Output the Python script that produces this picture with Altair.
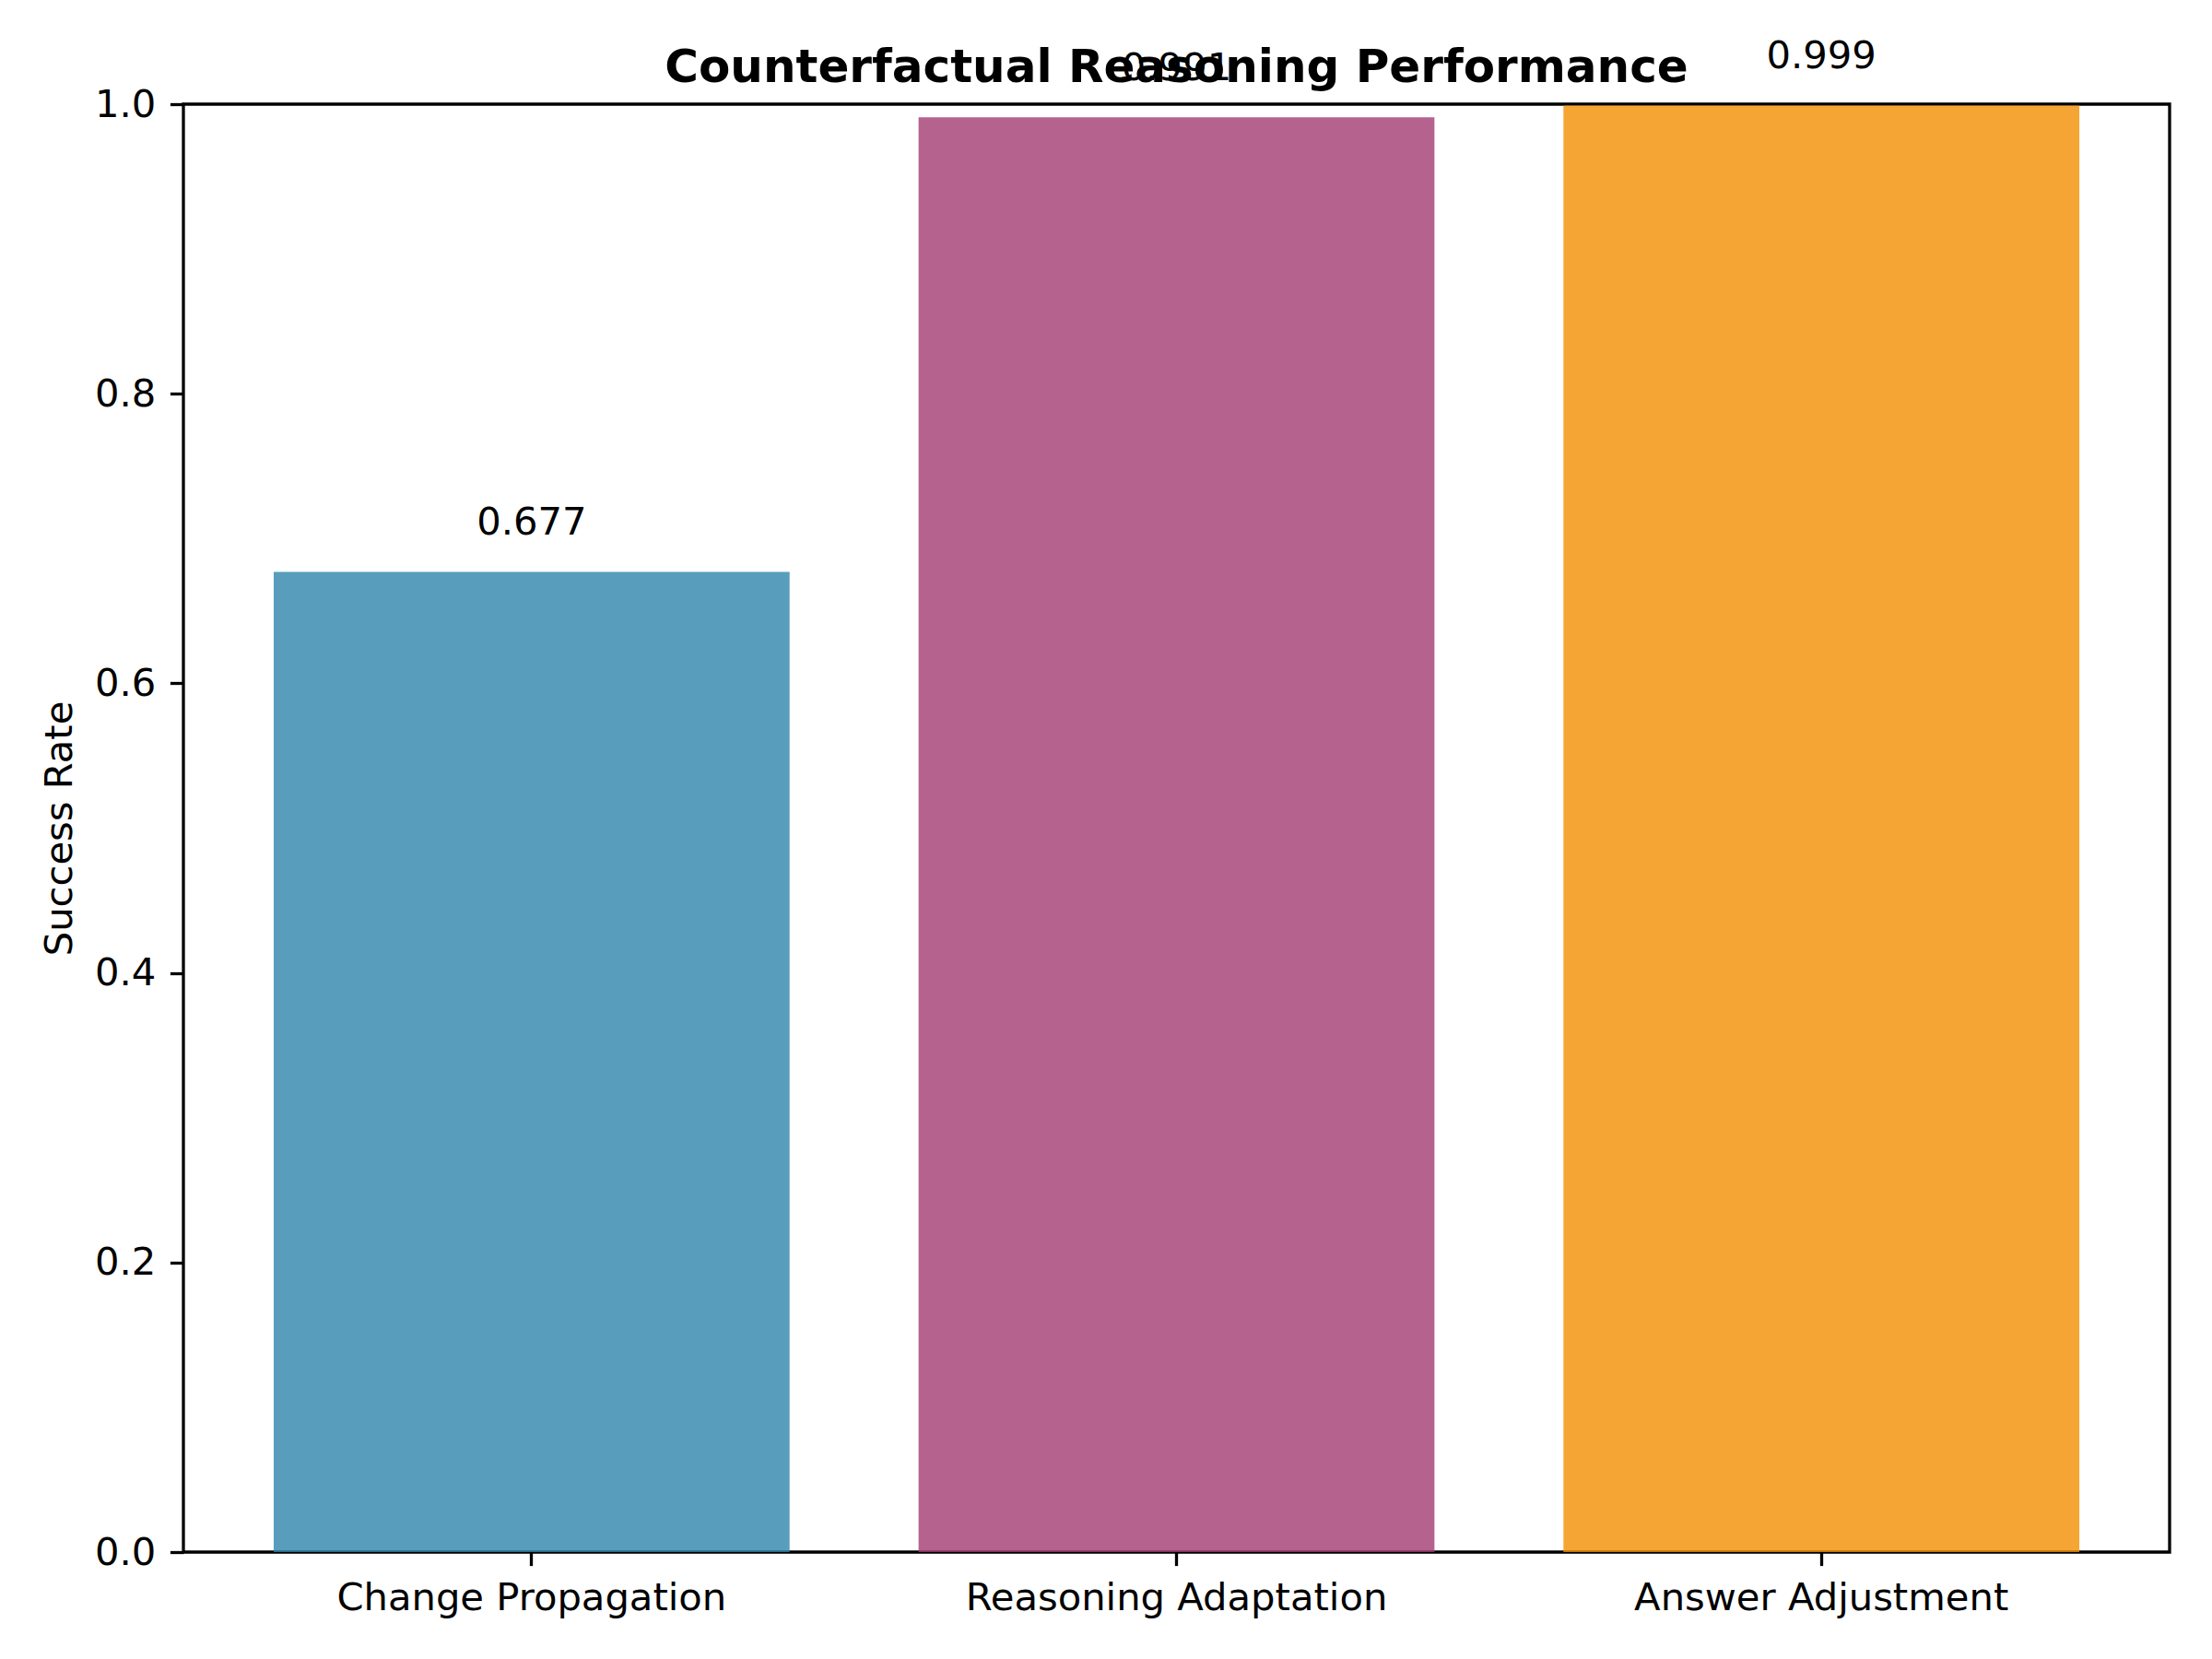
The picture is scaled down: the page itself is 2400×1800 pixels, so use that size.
import altair as alt
import pandas as pd

categories = ["Change Propagation", "Reasoning Adaptation", "Answer Adjustment"]
values = [0.677, 0.991, 0.999]
labels = ["0.677", "0.991", "0.999"]
colors = ["#2E86AB", "#A23B72", "#F18F01"]

df = pd.DataFrame({"category": categories, "value": values, "label": labels})

FONT = "DejaVu Sans"
FS = 41.7

x_enc = alt.X(
    "category:N",
    sort=categories,
    title=None,
    scale=alt.Scale(paddingInner=0.2, paddingOuter=0.14),
    axis=alt.Axis(
        labelAngle=0,
        labelFont=FONT,
        labelFontSize=FS,
        labelColor="black",
        labelBaseline="top",
        labelPadding=14.6,
        labelLimit=2000,
        tickSize=14.6,
        tickWidth=3.3,
        tickColor="black",
        domain=False,
        grid=False,
    ),
)

bars = alt.Chart(df).mark_bar(opacity=0.8).encode(
    x=x_enc,
    y=alt.Y(
        "value:Q",
        scale=alt.Scale(domain=[0, 1], nice=False),
        axis=alt.Axis(
            title="Success Rate",
            values=[0, 0.2, 0.4, 0.6, 0.8, 1.0],
            format=".1f",
            labelFont=FONT,
            labelFontSize=FS,
            labelColor="black",
            labelPadding=15.5,
            tickSize=14.6,
            tickWidth=3.3,
            tickColor="black",
            domain=False,
            grid=False,
            titleFont=FONT,
            titleFontSize=FS,
            titleFontWeight="normal",
            titleColor="black",
            titleAngle=-90,
            titleBaseline="alphabetic",
            titleAlign="center",
            titleX=-122,
            titleY=785.5,
        ),
    ),
    color=alt.Color(
        "category:N",
        scale=alt.Scale(domain=categories, range=colors),
        legend=None,
    ),
)

text = alt.Chart(df).transform_calculate(
    ypos="datum.value + 0.02"
).mark_text(
    font=FONT, fontSize=FS, color="black", baseline="bottom", align="center"
).encode(
    x=alt.X("category:N", sort=categories),
    y=alt.Y("ypos:Q"),
    text="label:N",
)

chart = alt.layer(bars, text).properties(
    width=2155,
    height=1571,
    autosize=alt.AutoSizeParams(type="none"),
    padding={"left": 191, "top": 105, "right": 38, "bottom": 108},
    title=alt.TitleParams(
        "Counterfactual Reasoning Performance",
        font=FONT,
        fontSize=50,
        fontWeight="bold",
        color="black",
        anchor="middle",
        frame="group",
        baseline="alphabetic",
        offset=27,
        dy=125,
    ),
).configure(
    background="white"
).configure_view(
    stroke="black", strokeWidth=3.3
)

chart.save("out.html", embed_options={"renderer": "svg", "actions": False})
